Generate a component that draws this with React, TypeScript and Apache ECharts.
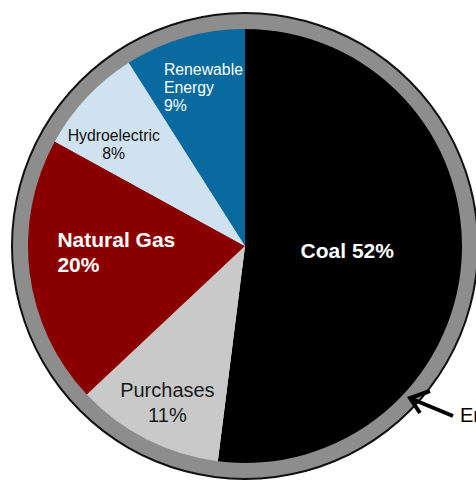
import React, { useEffect, useRef } from "react";
import * as echarts from "echarts";

const categories = ["Coal", "Purchases", "Natural Gas", "Hydroelectric", "Renewable\nEnergy"];
const shares = [52, 11, 20, 8, 9];
const calloutText = "Energy Efficiency";

const sliceColors = ["#000000", "#c9c9c9", "#8a0000", "#d0e2ef", "#086a9f"];
const labelStyles = [
  { color: "#ffffff", fontSize: 21, fontWeight: "bold", lineHeight: 24, sep: " " },
  { color: "#1a1a1a", fontSize: 20, fontWeight: "normal", lineHeight: 25, sep: "\n" },
  { color: "#ffffff", fontSize: 21, fontWeight: "bold", lineHeight: 25, sep: "\n" },
  { color: "#111111", fontSize: 15.8, fontWeight: "normal", lineHeight: 18, sep: "\n" },
  { color: "#ffffff", fontSize: 15.8, fontWeight: "normal", lineHeight: 18, sep: "\n" },
];
const labelShift = [
  { dx: -9, dy: -3 },
  { dx: -27, dy: 57 },
  { dx: -77, dy: -8, align: "left" },
  { dx: -50, dy: -25 },
  { dx: -50, dy: -51, align: "left" },
];

const FONT = "'Liberation Sans', Arial, Helvetica, sans-serif";

export default function App() {
  const ref = useRef<HTMLDivElement>(null);
  useEffect(() => {
    document.body.style.margin = "0";
    if (!ref.current) return;
    const chart = echarts.init(ref.current, undefined, { renderer: "svg" });
    const center = [245, 246];
    const data = categories.map((name, i) => ({
      name,
      value: shares[i],
      itemStyle: { color: sliceColors[i] },
      label: {
        show: true,
        position: "inside",
        formatter: name + labelStyles[i].sep + shares[i] + "%",
        color: labelStyles[i].color,
        fontSize: labelStyles[i].fontSize,
        fontWeight: labelStyles[i].fontWeight,
        lineHeight: labelStyles[i].lineHeight,
        fontFamily: FONT,
        align: (labelShift[i] as any).align || "center",
      },
    }));
    chart.setOption({
      animation: false,
      backgroundColor: "#ffffff",
      series: [
        {
          type: "pie",
          silent: true,
          center,
          radius: [231, 234],
          startAngle: 90,
          label: { show: false },
          labelLine: { show: false },
          emphasis: { disabled: true },
          data: [{ value: 1, itemStyle: { color: "#111111" } }],
          z: 1,
        },
        {
          type: "pie",
          silent: true,
          center,
          radius: [215, 232],
          startAngle: 90,
          label: { show: false },
          labelLine: { show: false },
          emphasis: { disabled: true },
          data: [{ value: 1, itemStyle: { color: "#8d8d8d" } }],
          z: 2,
        },
        {
          type: "pie",
          center,
          radius: [0, 217],
          startAngle: 90,
          clockwise: true,
          avoidLabelOverlap: false,
          emphasis: { disabled: true },
          labelLine: { show: false },
          itemStyle: { borderWidth: 0 },
          labelLayout: (p: any) => {
            const s = labelShift[p.dataIndex];
            const o: any = { dx: s.dx, dy: s.dy };
            if ((s as any).align) o.align = (s as any).align;
            return o;
          },
          data,
          z: 3,
        },
      ],
      graphic: [
        {
          type: "line",
          shape: { x1: 453, y1: 416, x2: 412, y2: 399 },
          style: { stroke: "#000", lineWidth: 4 },
          z: 10,
        },
        {
          type: "polyline",
          shape: { points: [[430, 391], [410, 398], [420, 413]] },
          style: { stroke: "#000", lineWidth: 4, fill: null },
          z: 10,
        },
        {
          type: "text",
          x: 460,
          y: 415,
          style: {
            text: calloutText,
            fontSize: 20,
            fontFamily: FONT,
            fill: "#000",
            verticalAlign: "middle",
          },
          z: 10,
        },
      ],
    });
    return () => chart.dispose();
  }, []);
  return <div ref={ref} style={{ width: 476, height: 481 }} />;
}
